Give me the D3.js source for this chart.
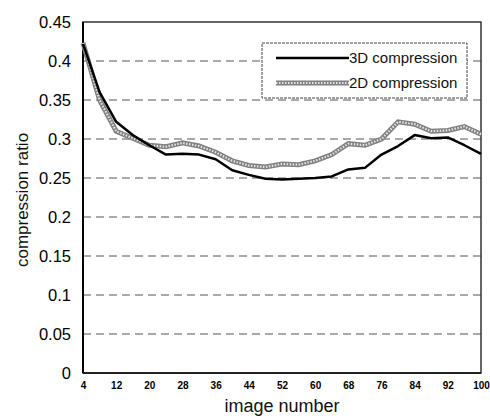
<!DOCTYPE html>
<html lang="en">
<head>
<meta charset="UTF-8">
<title>compression ratio</title>
<style>
    body { margin: 0; background: #fff; }
    text { font-family: "Liberation Sans", Arial, sans-serif; fill: #111; }
    .grid line { stroke: #555; stroke-dasharray: 8,5; stroke-width: 1; }
</style>
</head>
<body>
<svg id="svg" width="490" height="418"></svg>
<script src="https://cdn.jsdelivr.net/npm/d3@7"></script>
<script>
    // image numbers (every 4th image)
    const images = [4, 8, 12, 16, 20, 24, 28, 32, 36, 40, 44, 48, 52,
                    56, 60, 64, 68, 72, 76, 80, 84, 88, 92, 96, 100];
    const ratio3D = [0.422, 0.36, 0.322, 0.305, 0.292, 0.28, 0.281, 0.28, 0.274, 0.26, 0.254, 0.249, 0.248,
                     0.249, 0.25, 0.252, 0.261, 0.263, 0.28, 0.291, 0.305, 0.301, 0.302, 0.292, 0.281];
    const ratio2D = [0.423, 0.35, 0.31, 0.301, 0.292, 0.29, 0.295, 0.291, 0.283, 0.272, 0.266, 0.264, 0.268,
                     0.267, 0.272, 0.28, 0.294, 0.292, 0.3, 0.322, 0.319, 0.31, 0.311, 0.316, 0.306];
    const xTicks = [4, 12, 20, 28, 36, 44, 52, 60, 68, 76, 84, 92, 100];
    const yTicks = [0, 0.05, 0.1, 0.15, 0.2, 0.25, 0.3, 0.35, 0.4, 0.45];

    const svg = d3.select("#svg");
    const pLeft = 83, pRight = 481, pTop = 22, pBottom = 373;

    const x = d3.scaleLinear().domain([4, 100]).range([pLeft, pRight]);
    const y = d3.scaleLinear().domain([0, 0.45]).range([pBottom, pTop]);

    // dashed gridlines
    svg.append("g").attr("class", "grid")
        .selectAll("line")
        .data(yTicks.filter(function(d) { return d > 0 && d < 0.45; }))
        .enter().append("line")
        .attr("x1", pLeft).attr("x2", pRight)
        .attr("y1", function(d) { return y(d); })
        .attr("y2", function(d) { return y(d); });

    // frame
    svg.append("rect")
        .attr("x", pLeft).attr("y", pTop)
        .attr("width", pRight - pLeft).attr("height", pBottom - pTop)
        .attr("fill", "none").attr("stroke", "#333").attr("stroke-width", 1.5);
    svg.append("line")
        .attr("x1", pLeft).attr("x2", pLeft).attr("y1", pTop).attr("y2", pBottom)
        .attr("stroke", "#000").attr("stroke-width", 2);
    svg.append("line")
        .attr("x1", pLeft).attr("x2", pRight).attr("y1", pBottom).attr("y2", pBottom)
        .attr("stroke", "#222").attr("stroke-width", 2);

    // y axis labels
    const yAxis = d3.axisLeft(y).tickValues(yTicks).tickSize(0).tickPadding(12)
        .tickFormat(function(d) { return d === 0 ? "0" : String(+d.toFixed(2)); });
    svg.append("g").attr("transform", "translate(" + pLeft + ",0)")
        .call(yAxis)
        .call(function(g) { g.select(".domain").remove(); })
        .selectAll("text").style("font-size", "16.5px").style("fill", "#000");

    // x axis labels
    const xAxis = d3.axisBottom(x).tickValues(xTicks).tickSize(0).tickPadding(9);
    svg.append("g").attr("transform", "translate(0," + pBottom + ")")
        .call(xAxis)
        .call(function(g) { g.select(".domain").remove(); })
        .selectAll("text").style("font-size", "10px").style("font-weight", "bold").style("fill", "#000");

    svg.append("text")
        .attr("x", 282).attr("y", 412)
        .attr("text-anchor", "middle")
        .style("font-size", "18px")
        .text("image number");

    svg.append("text")
        .attr("transform", "translate(28,200) rotate(-90)")
        .attr("text-anchor", "middle")
        .style("font-size", "17px")
        .text("compression ratio");

    const line = d3.line()
        .x(function(d) { return x(d[0]); })
        .y(function(d) { return y(d[1]); });

    const data2D = images.map(function(n, i) { return [n, ratio2D[i]]; });
    const data3D = images.map(function(n, i) { return [n, ratio3D[i]]; });

    // 2D: textured gray band
    function grayLine(sel) {
        sel.append("path").attr("fill", "none").attr("stroke", "#808080").attr("stroke-width", 5);
        sel.append("path").attr("fill", "none").attr("stroke", "#e6e6e6").attr("stroke-width", 2.2)
            .attr("stroke-dasharray", "1.5,1.5");
    }
    const g2 = svg.append("g");
    grayLine(g2);
    g2.selectAll("path").attr("d", line(data2D));

    svg.append("path")
        .attr("d", line(data3D))
        .attr("fill", "none").attr("stroke", "#000").attr("stroke-width", 2.5)
        .attr("stroke-linejoin", "round");

    // legend
    const legend = svg.append("g");
    legend.append("rect")
        .attr("x", 262).attr("y", 43).attr("width", 205).attr("height", 55)
        .attr("fill", "#fff").attr("stroke", "#444").attr("stroke-width", 1)
        .attr("stroke-dasharray", "3,1");
    legend.append("line")
        .attr("x1", 276).attr("x2", 349).attr("y1", 58).attr("y2", 58)
        .attr("stroke", "#000").attr("stroke-width", 2.5);
    const lg = legend.append("g");
    grayLine(lg);
    lg.selectAll("path").attr("d", "M276,83H349");
    legend.append("text").attr("x", 349).attr("y", 63).style("font-size", "15px").text("3D compression");
    legend.append("text").attr("x", 349).attr("y", 88).style("font-size", "15px").text("2D compression");
</script>
</body>
</html>
